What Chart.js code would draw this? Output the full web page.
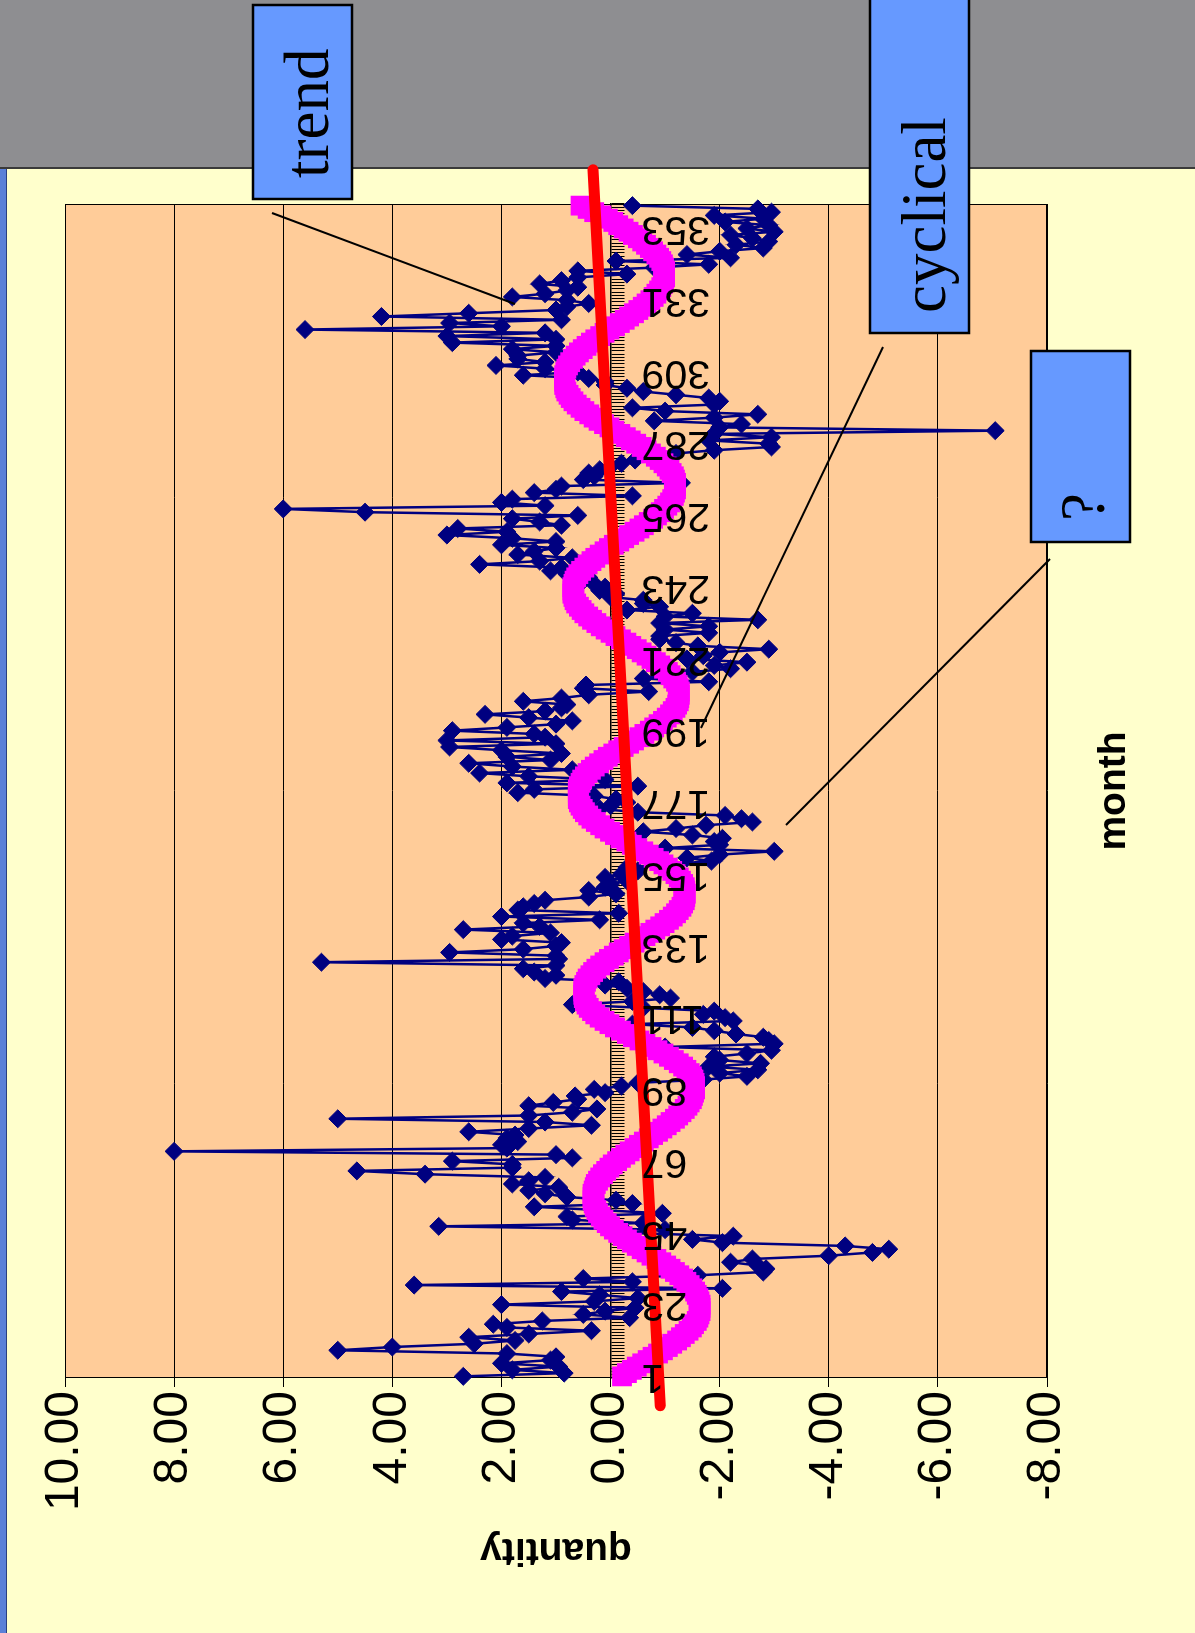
<!DOCTYPE html>
<html>
<head>
<meta charset="utf-8">
<script src="https://cdn.jsdelivr.net/npm/chart.js@4.4.1/dist/chart.umd.min.js"></script>
<style>
  html, body { margin: 0; padding: 0; }
  body { width: 1195px; height: 1633px; overflow: hidden; position: relative; background: #ffffcc; }
  #band { position: absolute; left: 0; top: 0; width: 1195px; height: 167px; background: #8e8e91; border-bottom: 2px solid #3a3a3a; }
  #edge { position: absolute; left: 0; top: 169px; width: 6px; height: 1464px; background: #5b80d8; border-right: 1px solid #2a3f80; }
  /* the chart is laid out landscape and turned a quarter turn anticlockwise */
  #stage { position: absolute; left: 0; top: 0; width: 1633px; height: 1195px;
           transform-origin: 0 0; transform: translateY(1633px) rotate(-90deg); }
  #stage canvas { display: block; }
  #notes { position: absolute; left: 0; top: 0; }
</style>
</head>
<body>
<div id="band"></div>
<div id="edge"></div>
<div id="stage"><canvas id="chart" width="1633" height="1195"></canvas></div>

<svg id="notes" width="1195" height="1633" xmlns="http://www.w3.org/2000/svg">
  <g stroke="#000" stroke-width="2">
    <line x1="272" y1="213" x2="515" y2="304"/>
    <line x1="883" y1="347" x2="701" y2="728"/>
    <line x1="1050" y1="559" x2="786" y2="825"/>
  </g>
  <g fill="#6699ff" stroke="#000" stroke-width="2.5">
    <rect x="253" y="5" width="99" height="194"/>
    <rect x="870" y="-10" width="99" height="343"/>
    <rect x="1031" y="351" width="99" height="191"/>
  </g>
  <g font-family="'Liberation Serif', 'Times New Roman', serif" font-size="63" fill="#000">
    <text transform="translate(328,178) rotate(-90)">trend</text>
    <text transform="translate(945,313) rotate(-90)">cyclical</text>
    <text transform="translate(1104,521) rotate(-90)">?</text>
  </g>
</svg>

<script>
// month axis: one category per month, a label every 22 months
const monthCount = 360;
const labelledMonths = [1, 23, 45, 67, 89, 111, 133, 155, 177, 199, 221, 243, 265, 287, 309, 331, 353];

// observed quantity per month
const quantity = [
   2.7,  0.85, 1.8,  0.95, 2.0,  1.1,  1.0,  1.9,  5.0,  4.0,
   2.5,  1.75, 2.6,  1.5,  0.35, 1.9,  2.15, 1.25,-0.35, 0.5,
   0.1, -0.45, 2.0,  0.3, -0.5,  0.2,  0.9, -2.05, 3.6, -0.4,
   0.5, -1.6, -2.8, -2.85,-2.7, -2.2, -2.6, -4.0, -4.8, -5.1,
  -4.3, -2.05,-1.5, -2.25,-0.3, -1.0,  3.15,-0.6,  0.7,  0.8,
  -0.95, 0.2,  1.4, -0.4, -0.1,  0.8,  1.2,  1.5,  0.95, 1.8,
   1.5,  1.2,  3.4,  4.65, 1.8,  1.8,  2.9,  0.7,  1.0,  8.0,
   1.9,  2.0,  1.7,  1.9,  1.75, 2.6,  1.5,  0.35, 1.2,  5.0,
   1.5,  0.7,  0.25, 1.5,  1.05, 0.6,  0.65, 0.1,  0.3, -0.2,
  -0.5, -1.7, -2.5, -2.0, -2.7, -1.8, -2.75,-2.0, -1.9, -2.5,
  -2.95,-1.0, -3.0, -2.9, -2.8, -2.3, -1.9, -1.5, -0.4, -2.25,
  -2.1, -1.7, -1.9, -0.6,  0.7, -0.4, -1.1, -0.9, -0.6, -0.3,
   0.1, -0.15, 1.2,  1.0,  1.4,  1.6,  1.0,  5.3,  0.95, 1.0,
   2.95, 1.6,  1.0,  0.9,  2.0,  1.8,  1.1,  2.7,  1.3,  1.6,
   0.2,  2.0, -0.15, 1.7,  1.6,  1.4,  1.2,  0.4, -0.1,  0.4,
   0.1,  0.0, -0.3,  0.1, -0.2, -0.5, -0.3, -1.0, -1.85,-1.4,
  -2.0, -3.0, -1.0, -2.0, -1.9, -2.05,-1.5, -0.6, -1.2, -1.75,
  -2.6, -2.4, -2.1, -0.5,  0.2,  0.0, -0.3, -0.1,  0.3,  1.7,
   1.4, -0.5,  1.9,  0.1,  1.5,  2.4,  0.7,  1.8,  2.6,  1.1,
   1.9,  0.9,  2.0,  2.95, 1.0,  3.0,  1.2,  1.4,  2.9,  1.9,
   1.0,  0.7,  1.5,  2.3,  1.2,  0.9,  0.8,  1.6,  0.9,  0.4,
  -0.7,  0.5,  0.45,-1.8, -0.6, -1.0, -1.5, -2.2, -1.9, -2.5,
  -1.4, -1.7, -2.0, -2.9, -1.6, -1.2, -0.9, -0.9, -1.8, -1.0,
  -1.8, -0.9, -2.7, -1.0, -1.5, -0.3, -0.9, -0.6, -0.6,  0.0,
  -0.1,  0.2,  0.1,  0.3,  0.5,  0.4,  0.8,  1.1,  0.9,  2.4,
   1.3,  0.7,  1.7,  1.4,  1.0,  2.0,  1.0,  1.8,  3.0,  1.9,
   2.8,  0.9,  1.3,  1.8,  0.6,  4.5,  6.0,  1.2,  2.0,  1.8,
  -0.4,  1.4,  1.0,  0.9, -1.3,  0.5,  0.3,  0.4,  0.2,  0.0,
  -0.2, -0.45,-0.9, -1.2, -1.9, -2.95,-2.9, -1.8, -2.95,-1.9,
  -7.05,-2.0, -2.4, -0.8, -1.9, -2.7, -1.0, -0.4, -1.9, -2.0,
  -1.8, -1.2, -0.6, -0.3,  0.1,  0.1,  0.4,  1.6,  0.6,  1.2,
   2.1,  1.2,  1.7,  1.7,  1.0,  1.8,  1.0,  2.9,  1.0,  3.0,
   1.2,  5.6,  2.0,  2.95, 0.9,  4.2,  2.6,  1.0,  0.8,  0.4,
   0.8,  1.8,  1.2,  0.8,  0.6,  1.3,  0.9,  0.6, -0.3,  0.6,
  -0.8, -1.8, -0.1, -2.2, -1.4, -2.0, -2.8, -2.3, -2.9, -2.6,
  -2.2, -3.0, -2.5, -2.9, -2.1, -2.8, -1.9, -2.95,-2.7, -0.4
];

// cyclical component per month
const cyclical = [
  -0.21,-0.30,-0.39,-0.48,-0.58,-0.68,-0.77,-0.87,-0.96,-1.05,
  -1.13,-1.22,-1.29,-1.36,-1.43,-1.49,-1.53,-1.58,-1.61,-1.63,
  -1.65,-1.65,-1.65,-1.63,-1.61,-1.58,-1.55,-1.50,-1.45,-1.39,
  -1.33,-1.26,-1.18,-1.10,-1.02,-0.93,-0.84,-0.75,-0.66,-0.57,
  -0.48,-0.39,-0.30,-0.22,-0.14,-0.06, 0.01, 0.07, 0.13, 0.18,
   0.23, 0.26, 0.29, 0.31, 0.33, 0.33, 0.33, 0.31, 0.29, 0.27,
   0.23, 0.19, 0.14, 0.08, 0.02,-0.04,-0.12,-0.19,-0.27,-0.35,
  -0.44,-0.52,-0.61,-0.70,-0.78,-0.87,-0.95,-1.03,-1.10,-1.18,
  -1.24,-1.30,-1.36,-1.41,-1.45,-1.49,-1.51,-1.53,-1.55,-1.55,
  -1.54,-1.52,-1.49,-1.45,-1.39,-1.33,-1.25,-1.16,-1.07,-0.97,
  -0.86,-0.75,-0.64,-0.53,-0.41,-0.30,-0.19,-0.08, 0.02, 0.11,
   0.20, 0.28, 0.34, 0.40, 0.44, 0.47, 0.49, 0.50, 0.50, 0.50,
   0.48, 0.45, 0.42, 0.37, 0.32, 0.26, 0.19, 0.11, 0.03,-0.06,
  -0.15,-0.24,-0.34,-0.44,-0.54,-0.64,-0.73,-0.82,-0.91,-0.99,
  -1.07,-1.14,-1.20,-1.25,-1.30,-1.33,-1.36,-1.37,-1.38,-1.37,
  -1.36,-1.33,-1.29,-1.25,-1.19,-1.13,-1.05,-0.97,-0.89,-0.79,
  -0.70,-0.60,-0.49,-0.39,-0.29,-0.18,-0.08, 0.01, 0.11, 0.19,
   0.27, 0.35, 0.41, 0.47, 0.51, 0.55, 0.58, 0.60, 0.60, 0.60,
   0.60, 0.58, 0.55, 0.52, 0.47, 0.42, 0.36, 0.29, 0.21, 0.13,
   0.05,-0.05,-0.14,-0.24,-0.34,-0.43,-0.53,-0.62,-0.72,-0.80,
  -0.88,-0.96,-1.03,-1.09,-1.14,-1.19,-1.22,-1.25,-1.26,-1.27,
  -1.27,-1.25,-1.23,-1.20,-1.15,-1.10,-1.05,-0.98,-0.91,-0.83,
  -0.75,-0.66,-0.57,-0.48,-0.38,-0.29,-0.19,-0.09, 0.00, 0.09,
   0.18, 0.26, 0.34, 0.41, 0.48, 0.53, 0.58, 0.63, 0.66, 0.68,
   0.70, 0.70, 0.70, 0.68, 0.66, 0.63, 0.59, 0.54, 0.48, 0.42,
   0.35, 0.28, 0.20, 0.11, 0.03,-0.06,-0.16,-0.25,-0.34,-0.44,
  -0.53,-0.61,-0.70,-0.78,-0.85,-0.92,-0.98,-1.04,-1.09,-1.13,
  -1.16,-1.18,-1.20,-1.20,-1.20,-1.18,-1.16,-1.12,-1.08,-1.03,
  -0.97,-0.90,-0.83,-0.74,-0.66,-0.57,-0.47,-0.37,-0.28,-0.18,
  -0.07, 0.02, 0.12, 0.22, 0.31, 0.39, 0.48, 0.55, 0.62, 0.68,
   0.73, 0.77, 0.81, 0.83, 0.85, 0.85, 0.85, 0.85, 0.83, 0.81,
   0.78, 0.74, 0.69, 0.64, 0.58, 0.51, 0.44, 0.36, 0.28, 0.19,
   0.11, 0.02,-0.08,-0.17,-0.26,-0.34,-0.43,-0.51,-0.59,-0.66,
  -0.73,-0.79,-0.84,-0.89,-0.93,-0.96,-0.98,-1.00,-1.00,-1.00,
  -0.98,-0.96,-0.93,-0.89,-0.84,-0.78,-0.72,-0.65,-0.58,-0.50,
  -0.41,-0.33,-0.24,-0.14,-0.05, 0.05, 0.17, 0.30, 0.42, 0.55
];

// straight trend, running a little past both ends of the month axis
const trendMonths = [-8, 371];
const trendValues = [-0.91, 0.32];

// quantity axis range and step
const quantityMin = -8, quantityMax = 10, quantityStep = 2;

const months = Array.from({ length: monthCount }, (_, i) => i + 1);
const toPoints = (xs, ys) => xs.map((x, i) => ({ x, y: ys[i] }));

const sans = "'Liberation Sans', Arial, sans-serif";

// peach plot area with a thin black frame
const plotFrame = {
  id: 'plotFrame',
  beforeDraw(chart) {
    const { ctx, chartArea: a } = chart;
    ctx.save();
    ctx.fillStyle = '#ffcc99';
    ctx.fillRect(a.left, a.top, a.right - a.left, a.bottom - a.top);
    ctx.restore();
  },
  beforeDatasetsDraw(chart) {
    const { ctx, chartArea: a } = chart;
    ctx.save();
    ctx.strokeStyle = '#000';
    ctx.lineWidth = 1;
    ctx.strokeRect(Math.round(a.left) + 0.5, Math.round(a.top) + 0.5,
                   Math.round(a.right - a.left) - 1, Math.round(a.bottom - a.top) - 1);
    ctx.restore();
  }
};

// month numbers written beside the zero line, read along the axis
const monthLabels = {
  id: 'monthLabels',
  afterDatasetsDraw(chart) {
    const { ctx } = chart;
    const xs = chart.scales.x, ys = chart.scales.y;
    const base = ys.getPixelForValue(0) + 31;
    ctx.save();
    ctx.font = `41px ${sans}`;
    ctx.fillStyle = '#000';
    ctx.textAlign = 'right';
    ctx.textBaseline = 'middle';
    for (const m of labelledMonths) {
      ctx.save();
      ctx.translate(xs.getPixelForValue(m), base);
      ctx.rotate(-Math.PI / 2);
      ctx.fillText(String(m), 0, 0);
      ctx.restore();
    }
    ctx.restore();
  }
};

new Chart(document.getElementById('chart'), {
  type: 'line',
  data: {
    datasets: [
      {
        label: 'trend',
        data: toPoints(trendMonths, trendValues),
        borderColor: '#ff0000',
        borderWidth: 11,
        borderCapStyle: 'round',
        pointRadius: 0,
        clip: false
      },
      {
        label: 'cyclical',
        data: toPoints(months, cyclical),
        showLine: false,
        pointStyle: 'rect',
        pointRadius: 14,
        pointBackgroundColor: '#ff00ff',
        pointBorderColor: '#ff00ff',
        pointBorderWidth: 0,
        clip: false
      },
      {
        label: 'quantity',
        data: toPoints(months, quantity),
        borderColor: '#000080',
        borderWidth: 2.5,
        pointStyle: 'rectRot',
        pointRadius: 9,
        pointBackgroundColor: '#000080',
        pointBorderColor: '#000080',
        pointBorderWidth: 1,
        clip: false
      }
    ]
  },
  options: {
    responsive: false,
    animation: false,
    events: [],
    layout: { padding: { left: 0, right: 204, top: 65, bottom: 0 } },
    plugins: { legend: { display: false }, tooltip: { enabled: false } },
    scales: {
      x: {
        type: 'linear',
        position: { y: 0 },
        min: 0.5,
        max: monthCount + 0.5,
        ticks: {
          display: false,
          stepSize: 1,
          autoSkip: false,
          includeBounds: false
        },
        grid: { drawOnChartArea: false, drawTicks: true, tickLength: 13, color: '#000', lineWidth: 1 },
        border: { display: true, color: '#000', width: 1.5 },
        afterFit: s => { s.height = 0; }
      },
      x2: {
        type: 'linear',
        position: 'bottom',
        ticks: { display: false },
        grid: { display: false },
        border: { display: false },
        title: {
          display: true, text: 'month', color: '#000',
          font: { family: sans, size: 39, weight: 'bold' },
          padding: { top: 0, bottom: 57 }
        },
        afterFit: s => { s.height = 148; }
      },
      y: {
        position: 'left',
        min: quantityMin,
        max: quantityMax,
        ticks: {
          stepSize: quantityStep,
          padding: 4,
          color: '#000',
          font: { family: sans, size: 48 },
          callback: v => Number(v).toFixed(2)
        },
        grid: { color: '#000', lineWidth: 1, tickLength: 9 },
        border: { display: true, color: '#000', width: 1 },
        title: {
          display: true, text: 'quantity', color: '#000',
          font: { family: sans, size: 39, weight: 'bold' },
          padding: { top: 60, bottom: 0 }
        },
        afterFit: s => { s.width = 255; }
      }
    }
  },
  plugins: [plotFrame, monthLabels]
});
</script>
</body>
</html>
